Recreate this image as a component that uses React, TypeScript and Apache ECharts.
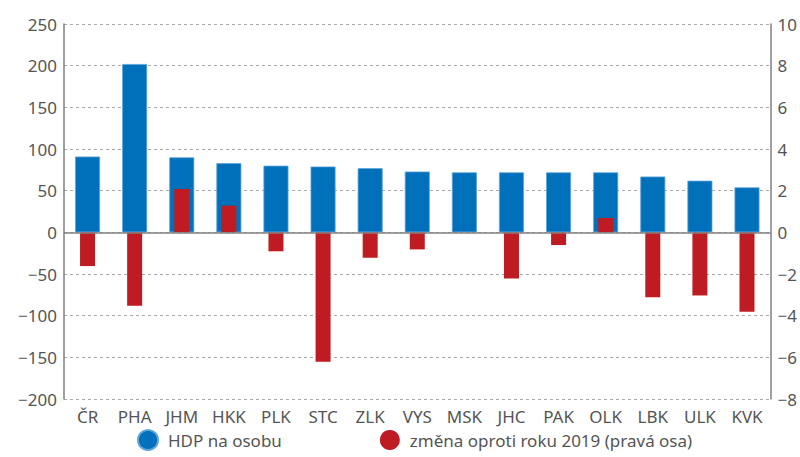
import React, { useEffect, useRef } from "react";
import * as echarts from "echarts";

const categories = ["ČR", "PHA", "JHM", "HKK", "PLK", "STC", "ZLK", "VYS", "MSK", "JHC", "PAK", "OLK", "LBK", "ULK", "KVK"];
const hdpNaOsobu = [91, 202, 90, 83, 80, 79, 77, 73, 72, 72, 72, 72, 67, 62, 54];
const zmena2019 = [-1.62, -3.52, 2.08, 1.28, -0.91, -6.21, -1.22, -0.82, 0, -2.21, -0.61, 0.69, -3.12, -3.03, -3.81];
const seriesNames = ["HDP na osobu", "změna oproti roku 2019 (pravá osa)"];

const BLUE = "#0070BB";
const RED = "#BE1B23";
const FONT = "'Noto Sans', sans-serif";
const minus = (v: number) => String(v).replace("-", "−");

export default function App() {
  const ref = useRef<HTMLDivElement>(null);
  useEffect(() => {
    const chart = echarts.init(ref.current!, undefined, { renderer: "svg" });
    chart.setOption({
      animation: false,
      textStyle: { fontFamily: FONT },
      grid: { left: 64, right: 26, top: 24, bottom: 58 },
      legend: {
        left: 137,
        top: 429,
        padding: 0,
        icon: "circle",
        itemWidth: 20,
        itemHeight: 20,
        itemGap: 98,
        textStyle: { fontSize: 17, lineHeight: 18, color: "#555", fontFamily: FONT, padding: [0, 0, 0, 5] },
        data: seriesNames,
      },
      xAxis: [
        {
          type: "category",
          data: categories,
          axisLine: { show: false, onZero: false },
          axisTick: { show: false },
          axisLabel: { fontSize: 17, color: "#555", margin: 9, interval: 0 },
        },
        {
          type: "category",
          data: categories,
          show: false,
        },
      ],
      yAxis: [
        {
          type: "value",
          min: -200,
          max: 250,
          interval: 50,
          axisLine: { show: true, lineStyle: { color: "#808080", width: 1.5 } },
          axisTick: { show: false },
          axisLabel: { fontSize: 17, color: "#555", margin: 7, formatter: minus },
          splitLine: { show: true, lineStyle: { color: "#aaa", type: [3, 3], width: 1 } },
        },
        {
          type: "value",
          min: -8,
          max: 10,
          interval: 2,
          position: "right",
          axisLine: { show: true, lineStyle: { color: "#808080", width: 1.5 } },
          axisTick: { show: false },
          axisLabel: { fontSize: 17, color: "#555", margin: 7, formatter: minus },
          splitLine: { show: false },
        },
      ],
      series: [
        {
          name: seriesNames[0],
          type: "bar",
          xAxisIndex: 0,
          yAxisIndex: 0,
          data: hdpNaOsobu,
          barWidth: 25,
          itemStyle: { color: BLUE, borderColor: "#5fa5dc", borderWidth: 0.8 },
          markLine: {
            silent: true,
            symbol: "none",
            label: { show: false },
            lineStyle: { color: "#808080", type: "solid", width: 1.5 },
            data: [{ yAxis: 0 }],
          },
        },
        {
          name: seriesNames[1],
          type: "bar",
          xAxisIndex: 1,
          yAxisIndex: 1,
          data: zmena2019,
          barWidth: 15,
          itemStyle: { color: RED },
        },
      ],
    });
    return () => chart.dispose();
  }, []);
  return <div ref={ref} style={{ width: 800, height: 457, position: "absolute", left: 0, top: 0 }} />;
}
